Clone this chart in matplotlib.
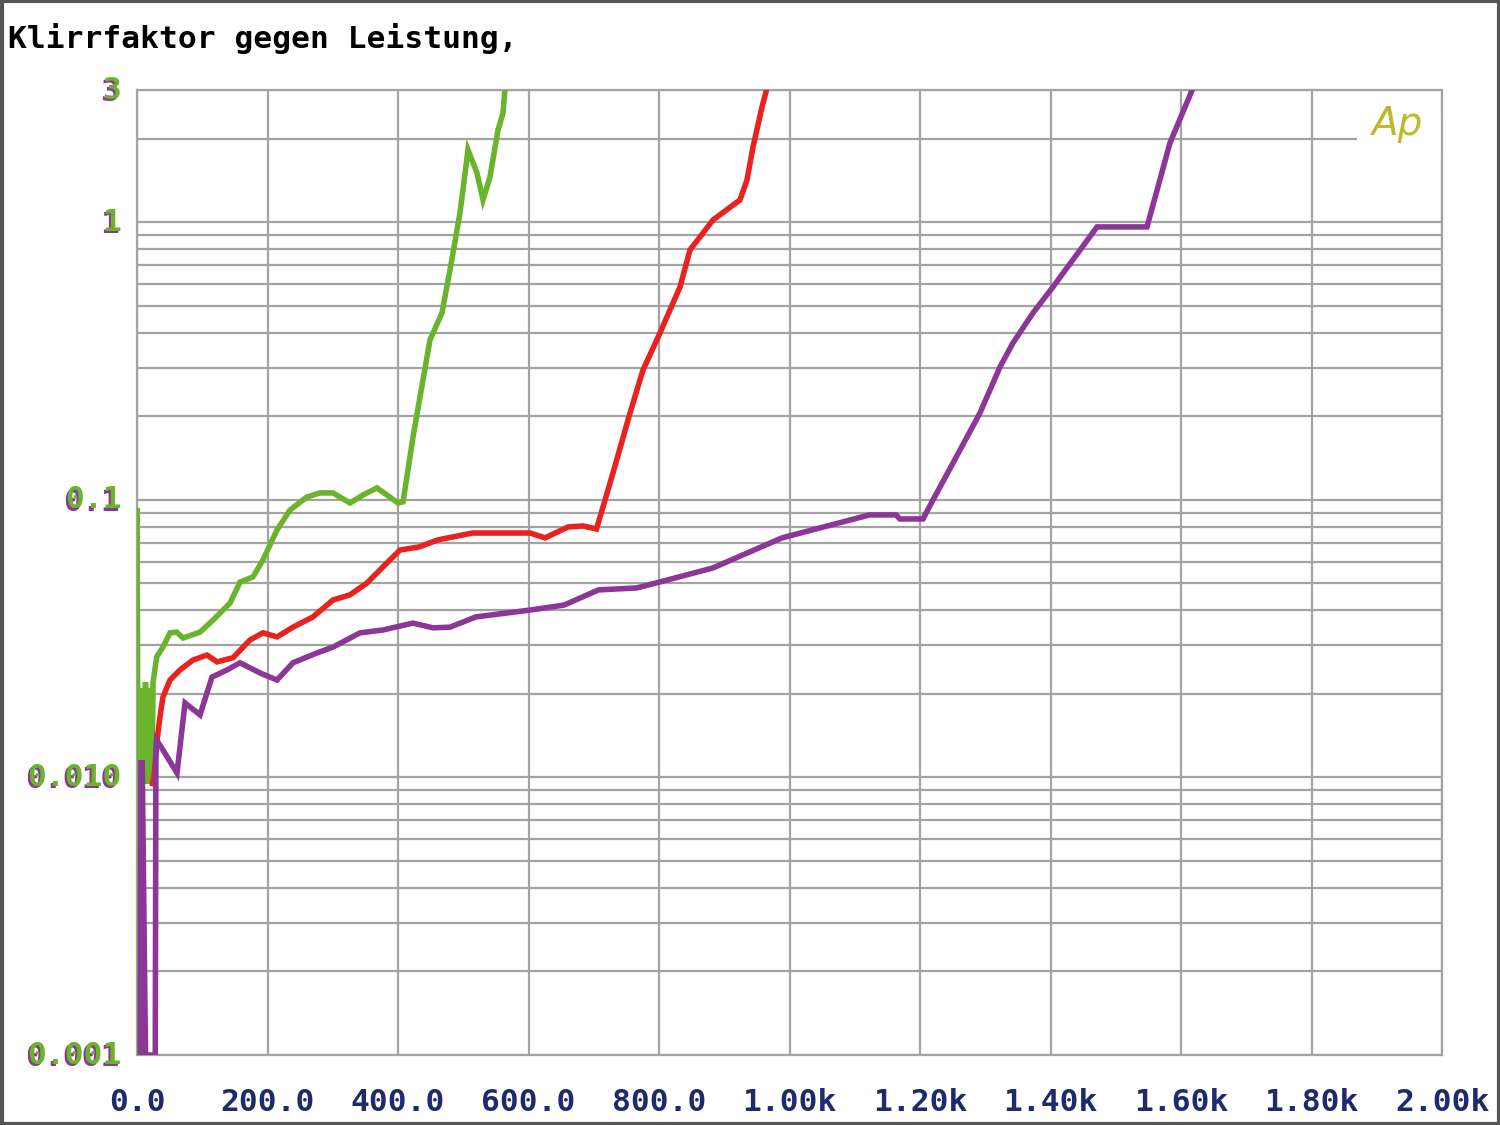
import matplotlib
matplotlib.use("Agg")
import matplotlib.pyplot as plt
from matplotlib.patches import Rectangle
from matplotlib.ticker import FixedLocator, NullFormatter
from matplotlib.transforms import offset_copy

# ---------------- data ----------------
green_x = [0, 0, 1, 3, 5, 7, 9, 11, 13, 15, 17, 19, 21, 23, 24.5, 30.2, 39.8, 50.6, 60.8,
           70.5, 96.6, 116.5, 142.5, 157.9, 177.8, 193.1, 214.6, 234.5, 260.5, 280.5,
           300.4, 326.4, 346.4, 367.8, 383.1, 400.0, 407.7, 415.3, 423.0, 438.3, 449.0,
           467.4, 479.7, 495.0, 507.3, 521.0, 530.3, 541.0, 553.3, 561.0, 564.0]
green_y = [0.001, 0.0936, 0.020, 0.0092, 0.021, 0.0095, 0.020, 0.010, 0.022, 0.0095, 0.021,
           0.0105, 0.020, 0.0095, 0.0219, 0.0272, 0.0295, 0.0332, 0.0334, 0.0318, 0.0334,
           0.0369, 0.0425, 0.0506, 0.0528, 0.0608, 0.0780, 0.0920, 0.1025, 0.106, 0.106,
           0.0975, 0.1042, 0.1105, 0.1042, 0.0975, 0.0984, 0.1283, 0.1687, 0.2706, 0.377,
           0.472, 0.6743, 1.082, 1.825, 1.508, 1.205, 1.459, 2.154, 2.48, 3.05]

red_x = [24.0, 26.1, 30.2, 35.2, 39.8, 50.6, 65.9, 85.8, 107.3, 122.6, 147.1, 173.2, 193.1,
         214.6, 239.1, 269.7, 300.4, 326.4, 352.5, 377.0, 403.0, 432.2, 461.3, 514.2, 602.5,
         625.3, 660.5, 683.5, 704.2, 729.5, 755.6, 775.5, 801.5, 832.2, 847.5, 862.8, 882.8,
         924.1, 934.9, 944.1, 957.9, 965.5]
red_y = [0.0095, 0.01005, 0.0133, 0.01652, 0.0195, 0.02245, 0.0244, 0.0265, 0.0276, 0.0261,
         0.0270, 0.0313, 0.0332, 0.0321, 0.0348, 0.0379, 0.0436, 0.0455, 0.0502, 0.0574,
         0.0660, 0.0677, 0.0718, 0.0760, 0.0760, 0.0730, 0.0799, 0.0806, 0.0786, 0.1251,
         0.2058, 0.294, 0.3996, 0.5855, 0.796, 0.8865, 1.021, 1.205, 1.423, 1.871, 2.608,
         3.05]

purple_x = [5, 6, 8, 13, 28, 29, 30, 39.8, 61.3, 73.6, 96.6, 114.9, 137.9, 157.9, 188.5,
            214.6, 239.1, 275.9, 300.4, 341.8, 377.0, 423.0, 453.6, 479.7, 519.5, 602.3,
            654.4, 707.3, 766.3, 800.8, 882.8, 988.5, 1046.7, 1122.6, 1163.2, 1169.3,
            1204.6, 1219.9, 1250.6, 1291.9, 1322.6, 1342.5, 1373.2, 1403.8, 1471.3,
            1547.9, 1583.1, 1618.4]
purple_y = [0.001, 0.0113, 0.0113, 0.001, 0.001, 0.0125, 0.01365, 0.01256, 0.01038, 0.01856,
            0.0168, 0.0230, 0.0244, 0.0259, 0.0238, 0.02245, 0.0259, 0.0281, 0.0295, 0.0332,
            0.0340, 0.0360, 0.0346, 0.0348, 0.0379, 0.0401, 0.0418, 0.0474, 0.0482, 0.0506,
            0.0569, 0.0730, 0.0793, 0.0883, 0.0883, 0.0854, 0.0854, 0.100, 0.1359, 0.2058,
            0.3015, 0.3679, 0.4720, 0.5855, 0.9634, 0.9634, 1.934, 3.05]

x_ticks = [0, 200, 400, 600, 800, 1000, 1200, 1400, 1600, 1800, 2000]
x_labels = ["0.0", "200.0", "400.0", "600.0", "800.0", "1.00k", "1.20k", "1.40k",
            "1.60k", "1.80k", "2.00k"]
y_ticks = [3, 1, 0.1, 0.01, 0.001]
y_labels = ["3", "1", "0.1", "0.010", "0.001"]

title = "Klirrfaktor gegen Leistung,"

# ---------------- style ----------------
GREEN = "#6ab42d"
RED = "#e8221e"
PURPLE = "#8c3798"
GRID = "#a3a3a3"
NAVY = "#1d2a6e"
MONO = "DejaVu Sans Mono"
FS = 22.5

fig = plt.figure(figsize=(15, 11.25), dpi=100)
fig.patch.set_facecolor("white")
ax = fig.add_axes([137 / 1500, 1 - 1055 / 1125, (1442 - 137) / 1500, (1055 - 90) / 1125])

ax.set_yscale("log")
ax.set_xlim(0, 2000)
ax.set_ylim(0.001, 3)

minor_y = []
for dec in [0.001, 0.01, 0.1, 1]:
    for m in range(2, 10):
        v = dec * m
        if v < 3:
            minor_y.append(v)
ax.yaxis.set_major_locator(FixedLocator([0.001, 0.01, 0.1, 1, 3]))
ax.yaxis.set_minor_locator(FixedLocator(minor_y))
ax.yaxis.set_major_formatter(NullFormatter())
ax.yaxis.set_minor_formatter(NullFormatter())
ax.xaxis.set_major_locator(FixedLocator(x_ticks))
ax.xaxis.set_major_formatter(NullFormatter())
ax.tick_params(which="both", length=0)
ax.grid(True, which="both", axis="y", color=GRID, linewidth=1.6)
ax.grid(True, which="major", axis="x", color=GRID, linewidth=1.6)
ax.set_axisbelow(True)
for s in ax.spines.values():
    s.set_color(GRID)
    s.set_linewidth(1.6)

# white patch behind the logo (grid line stops there)
ax.add_patch(Rectangle((0.935, 0.93), 0.064, 0.045, transform=ax.transAxes,
                       facecolor="white", edgecolor="none", zorder=1.5))
ax.text(0.9655, 0.965, "Ap", transform=ax.transAxes, ha="center", va="center",
        fontsize=28, color="#bdb92c", style="italic", family="DejaVu Sans",
        fontweight="light", zorder=3)

lw = 4.0
ax.plot(green_x, green_y, color=GREEN, lw=lw, solid_joinstyle="miter", zorder=3)
ax.plot(red_x, red_y, color=RED, lw=lw, solid_joinstyle="miter", zorder=4)
ax.plot(purple_x, purple_y, color=PURPLE, lw=lw, solid_joinstyle="miter", zorder=5)

# x tick labels
for xv, lab in zip(x_ticks, x_labels):
    ax.text(xv, -0.049, lab, transform=ax.get_xaxis_transform(), ha="center", va="center",
            fontsize=FS, family=MONO, fontweight="bold", color=NAVY)

# y tick labels (green with purple shadow)
ytr = ax.get_yaxis_transform()
tr_shadow = offset_copy(ytr, fig=fig, x=-1.5, y=-1.5, units="points")
for yv, lab in zip(y_ticks, y_labels):
    ax.text(-0.012, yv, lab, transform=tr_shadow, ha="right", va="center",
            fontsize=FS, family=MONO, fontweight="bold", color=PURPLE, clip_on=False)
    ax.text(-0.012, yv, lab, transform=ytr, ha="right", va="center",
            fontsize=FS, family=MONO, fontweight="bold", color=GREEN, clip_on=False)

fig.text(8 / 1500, 1 - 38 / 1125, title, ha="left", va="center", fontsize=FS,
         family=MONO, fontweight="bold", color="black")

# outer frame
fig.patches.append(Rectangle((0.001, 0.001), 0.998, 0.998, transform=fig.transFigure,
                             fill=False, edgecolor="#555555", linewidth=3))

fig.savefig("out.png", dpi=100)
